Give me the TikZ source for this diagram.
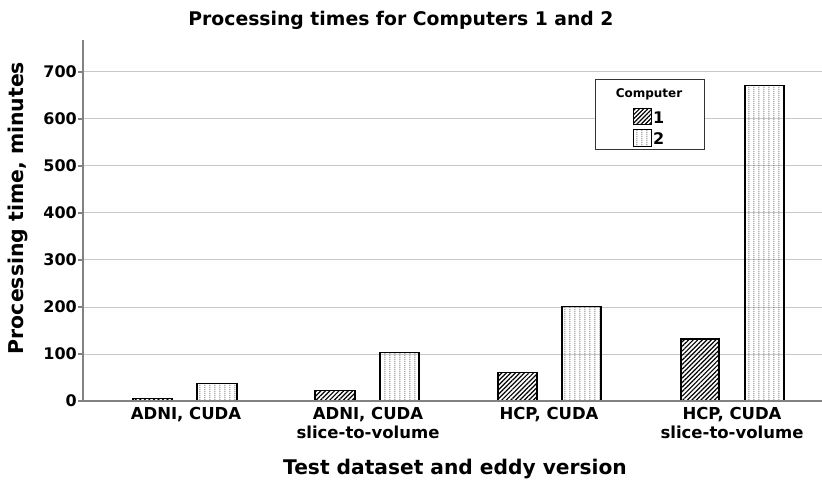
\documentclass[tikz,border=0pt]{standalone}
\usepackage{fontspec}
\setmainfont{DejaVu Sans}
\usetikzlibrary{patterns,patterns.meta}
\pgfdeclarepatternformonly{coldots}{\pgfqpoint{0pt}{0pt}}{\pgfqpoint{4.5pt}{2.2pt}}{\pgfqpoint{4.5pt}{2.2pt}}{%
  \pgfpathrectangle{\pgfqpoint{1.6pt}{0.6pt}}{\pgfqpoint{1pt}{1pt}}\pgfusepath{fill}}
\definecolor{gridc}{RGB}{200,200,200}
\definecolor{axisc}{RGB}{130,130,130}
\begin{document}
\begin{tikzpicture}[x=1pt,y=-1pt,
  every node/.style={font=\bfseries, inner sep=0pt},
  grid/.style={draw=gridc, line width=1pt},
  axisline/.style={draw=axisc, line width=1.2pt},
  hatchbar/.style={draw=black, line width=1.1pt, pattern={Lines[angle=45,distance=3.2pt,line width=1.2pt]}},
  dotbar/.style={draw=black, line width=1.1pt, pattern=coldots, pattern color=black!70},
  ticklab/.style={anchor=east, font=\bfseries\fontsize{16}{18}\selectfont},
  catlab/.style={anchor=north, align=center, font=\bfseries\fontsize{16.5}{19.5}\selectfont},
]
\useasboundingbox (0,0) rectangle (822,481);
% gridlines and ticks
\foreach \v in {100,200,...,700}{
  \draw[grid] (83,{401-0.47*\v}) -- (822,{401-0.47*\v});
}
\foreach \v in {0,100,...,700}{
  \draw[axisline] (78,{401-0.47*\v}) -- (83,{401-0.47*\v});
  \node[ticklab] (t\v) at (77,{401-0.47*\v}) {\v};
}
% bars
\draw[hatchbar] (133,401) rectangle (172,{401-0.47*5});
\draw[dotbar] (197,401) rectangle (237,{401-0.47*38});
\draw[hatchbar] (315,401) rectangle (355,{401-0.47*23});
\draw[dotbar] (380,401) rectangle (419,{401-0.47*104});
\draw[hatchbar] (498,401) rectangle (537,{401-0.47*60});
\draw[dotbar] (562,401) rectangle (601,{401-0.47*202});
\draw[hatchbar] (681,401) rectangle (719,{401-0.47*132});
\draw[dotbar] (745,401) rectangle (784,{401-0.47*672});
% axes
\coordinate (origin) at (83,401);
\coordinate (ytop) at (83,40);
\coordinate (xend) at (822,401);
\draw[axisline] (ytop) -- (origin) -- (xend);
% category labels
\node[catlab] (c1) at (186,407) {ADNI, CUDA};
\node[catlab] (c2) at (368,407) {ADNI, CUDA\\slice-to-volume};
\node[catlab] (c3) at (549,407) {HCP, CUDA};
\node[catlab] (c4) at (732,407) {HCP, CUDA\\slice-to-volume};
% titles
\node[font=\bfseries\fontsize{18.8}{22}\selectfont] (title) at (401,20) {Processing times for Computers 1 and 2};
\node[font=\bfseries\fontsize{20.2}{23}\selectfont] (xlab) at (455,469) {Test dataset and eddy version};
\node[font=\bfseries\fontsize{20.4}{23}\selectfont, rotate=90] (ylab) at (18,208) {Processing time, minutes};
% legend
\draw[draw=black!80, line width=1pt, fill=white] (595,80) rectangle (704,150);
\node[font=\bfseries\fontsize{12}{14}\selectfont] (legt) at (649,94) {Computer};
\draw[hatchbar, line width=1pt, pattern={Lines[angle=45,distance=3pt,line width=1.1pt]}] (633,109) rectangle (651,125);
\draw[dotbar, line width=1pt] (633,130) rectangle (651,147);
\node[anchor=west, font=\bfseries\fontsize{16}{18}\selectfont] (l1) at (653,118) {1};
\node[anchor=west, font=\bfseries\fontsize{16}{18}\selectfont] (l2) at (653,139) {2};
\end{tikzpicture}
\end{document}
